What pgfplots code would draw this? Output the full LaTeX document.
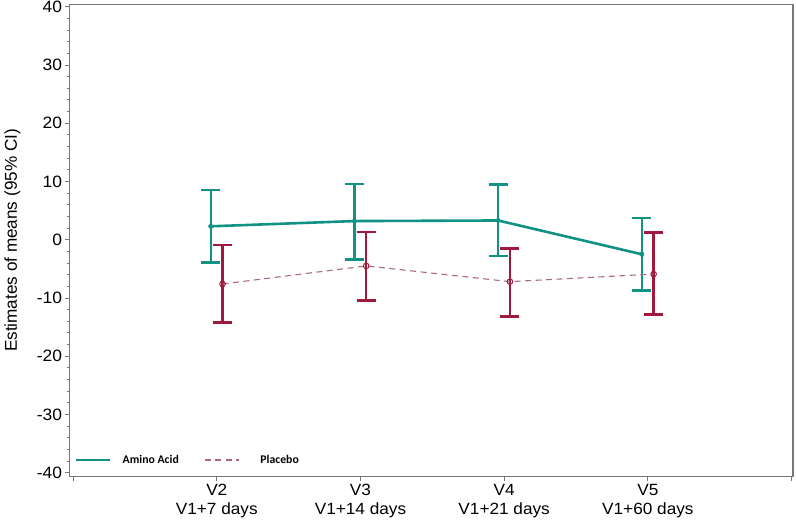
\documentclass[border=0pt]{standalone}
\usepackage{pgfplots}
\pgfplotsset{compat=1.18}
\usepackage{fontspec}
\setmainfont{Liberation Sans}
\newfontfamily\tickfont{Liberation Sans}[FakeStretch=1.06]
\newfontfamily\legfont{Carlito}
\definecolor{teal1}{RGB}{18,146,132}
\definecolor{crim}{RGB}{160,25,60}
\definecolor{mauve}{RGB}{170,105,125}
\definecolor{framec}{RGB}{120,120,120}

\pgfplotstableread{
x y ep em
0.958 2.3 6.2 6.2
1.958 3.2 6.4 6.6
2.958 3.3 6.2 6.1
3.958 -2.5 6.2 6.2
}\amino
\pgfplotstableread{
x y ep em
1.04 -7.6 6.7 6.6
2.04 -4.5 5.8 5.9
3.04 -7.2 5.7 6.0
4.04 -5.9 7.1 6.9
}\placebo

\begin{document}
\begin{tikzpicture}
\begin{axis}[
  scale only axis, width=723.5bp, height=472bp,
  xmin=-0.025, xmax=5.01, ymin=-40.65, ymax=40.38,
  axis line style={framec, line width=1.4bp},
  xtick={0,1,2,3,4,5},
  xticklabels={{},{V2\\V1+7 days},{V3\\V1+14 days},{V4\\V1+21 days},{V5\\V1+60 days},{}},
  xticklabel style={align=center, font=\tickfont\fontsize{16.3}{19.5}\selectfont},
  ytick={-40,-30,...,40}, minor y tick num=4,
  yticklabel style={font=\tickfont\fontsize{16.5}{18}\selectfont},
  /pgf/number format/assume math mode=true,
  tick align=outside, xtick pos=bottom, ytick pos=left,
  tick style={framec, line width=0.9bp},
  major tick length=4bp, minor tick length=2.5bp,
  ylabel={Estimates of means (95\% CI)},
  ylabel style={font=\fontsize{17.2}{19}\selectfont, at={(axis description cs:-0.079,0.5)}, anchor=center},
  legend columns=2,
  legend style={draw=none, fill=none, inner sep=0pt, at={(axis description cs:0.0075,0.035)}, anchor=west,
    font=\legfont\bfseries\fontsize{11.8}{13}\selectfont,
    nodes={inner xsep=0pt},
    /tikz/every odd column/.append style={column sep=11bp},
    /tikz/every even column/.append style={column sep=25.5bp}},
  legend image code/.code={\draw[#1] (0bp,0bp) -- (34bp,0bp);},
]
\coordinate (O) at (axis description cs:0,0);
% error bars
\addplot[draw=none, mark=none, forget plot,
  error bars/.cd, y dir=both, y explicit,
  error bar style={teal1, line width=2.5bp},
  error mark options={rotate=90, teal1, mark size=9.5bp, line width=2.5bp}]
  table[x=x, y=y, y error plus=ep, y error minus=em] {\amino};
\addplot[teal1, line width=2.6bp, mark=*, mark size=2.2bp, mark options={solid, fill=teal1, line width=0.5bp}]
  table[x=x, y=y] {\amino};
\addlegendentry{Amino Acid}
\addplot[draw=none, mark=none, forget plot,
  error bars/.cd, y dir=both, y explicit,
  error bar style={crim, line width=2.5bp},
  error mark options={rotate=90, crim, mark size=9.5bp, line width=2.5bp}]
  table[x=x, y=y, y error plus=ep, y error minus=em] {\placebo};
\addplot[mauve, line width=1.1bp, dash pattern=on 6bp off 4.5bp, forget plot]
  table[x=x, y=y] {\placebo};
\addplot[only marks, mark=o, mark size=2.8bp, mark options={solid, draw=crim, fill=mauve!30, line width=1bp}, forget plot]
  table[x=x, y=y] {\placebo};
\addlegendimage{mauve, line width=1.1bp, dash pattern=on 6bp off 4.5bp}
\addlegendentry{\hspace*{10bp}Placebo}
\end{axis}
\pgfresetboundingbox
\path ([shift={(-69.5bp,-50.5bp)}]O) rectangle ++(797bp,527bp);
\end{tikzpicture}
\end{document}
